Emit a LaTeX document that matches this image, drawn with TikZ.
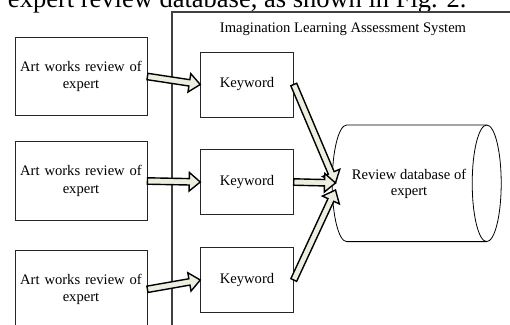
\documentclass[tikz,border=0pt]{standalone}
\usepackage{fontspec}
\setmainfont{Liberation Serif}
\usetikzlibrary{calc}
\definecolor{arrowfill}{RGB}{238,238,224}
\definecolor{framegray}{RGB}{64,64,64}
\newcommand{\blockarrow}[2]{%
  \coordinate (bas) at (#1);
  \coordinate (bae) at (#2);
  \coordinate (bac) at ($(bae)!11pt!(bas)$);
  \draw[blockarrow] ($(bas)!3.2pt!90:(bae)$) -- ($(bac)!3.2pt!-90:(bas)$)
    -- ($(bac)!9.3pt!-90:(bas)$) -- (bae) -- ($(bac)!9.3pt!90:(bas)$)
    -- ($(bac)!3.2pt!90:(bas)$) -- ($(bas)!3.2pt!-90:(bae)$) -- cycle;}
\begin{document}
\begin{tikzpicture}[
                x=1pt, y=-1pt,
                every node/.style={font=\fontsize{14.6}{17.5}\selectfont},
                artbox/.style={draw=black!85, line width=0.9pt, inner sep=0pt,
                    minimum width=132pt, minimum height=78.5pt, text width=130pt, align=center},
                keybox/.style={draw=black!85, line width=0.9pt, inner sep=0pt,
                    minimum width=92.6pt, minimum height=65pt},
                dbtext/.style={inner sep=0pt, align=center, font=\fontsize{14.6}{16.5}\selectfont},
                dbline/.style={draw=black, line width=0.8pt},
                frameline/.style={draw=framegray, line width=1.2pt},
                blockarrow/.style={draw=black, fill=arrowfill, line width=1.4pt, line join=miter}
            ]

            \useasboundingbox (0,0) rectangle (510,324);
            \clip (0,0) rectangle (510,324);

            \node[anchor=base east, font=\fontsize{26.5}{30}\selectfont] (caption) at (470,7)
                {expert review database, as shown in Fig. 2.};

            \draw[frameline] (172,330) -- (172,12) -- (515,12);
            \node[anchor=base] (system) at (343,32) {Imagination Learning Assessment System};

            \node[artbox] (art1) at (81,76.5) {Art works review of\\expert};
            \node[artbox] (art2) at (81,181) {Art works review of\\expert};
            \node[artbox] (art3) at (81,289.3) {Art works review of\\expert};

            \node[keybox] (kw1) at (247,84.5) {Keyword};
            \node[keybox] (kw2) at (247,182) {Keyword};
            \node[keybox] (kw3) at (247,280) {Keyword};

            % database drum
            \draw[dbline] (486.7,125) -- (346.7,125)
                arc[start angle=90, end angle=270, x radius=14.5pt, y radius=58.3pt]
                -- (486.7,241.6);
            \draw[dbline] (486.7,183.3) ellipse[x radius=14.5pt, y radius=58.3pt];
            \node[dbtext] (db) at (409,184) {Review database of\\expert};
            \coordinate (dbinA) at (335.5,183);
            \coordinate (dbinB) at (335.5,190);

            \blockarrow{art1.east}{kw1.west}
            \blockarrow{art2.east}{kw2.west}
            \blockarrow{art3.east}{kw3.west}
            \blockarrow{kw1.east}{dbinA}
            \blockarrow{kw2.east}{dbinA}
            \blockarrow{kw3.east}{dbinB}

        \end{tikzpicture}
\end{document}
